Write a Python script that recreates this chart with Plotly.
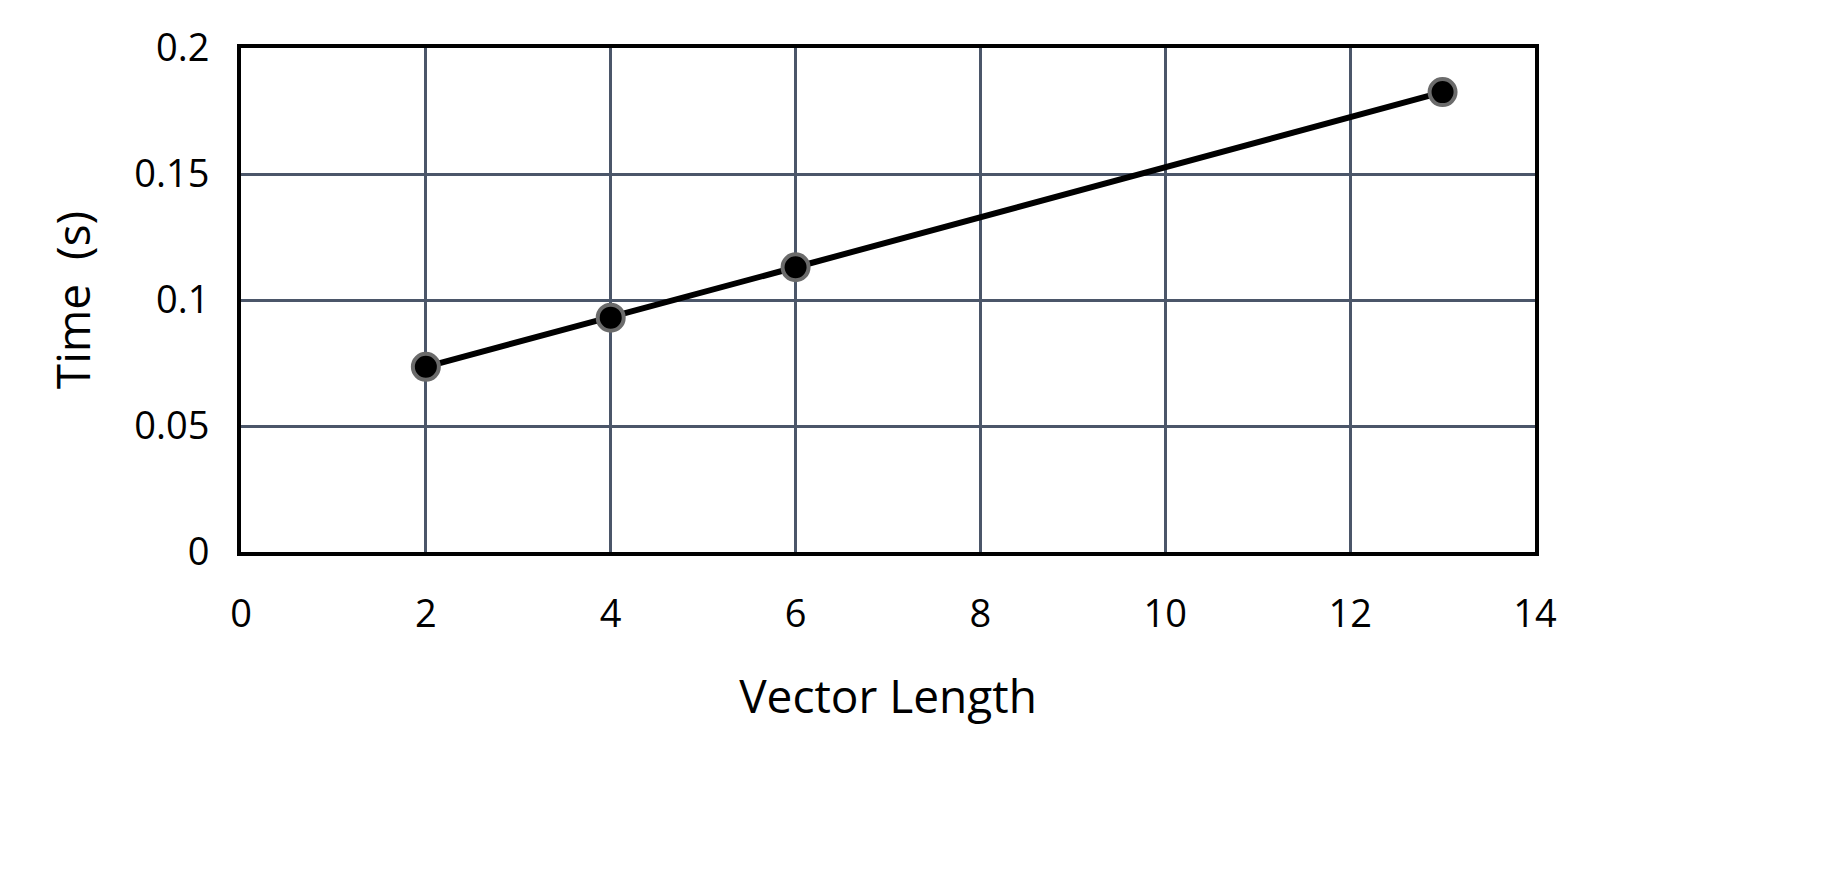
import plotly.graph_objects as go

vector_length = [2, 4, 6, 13]
time_s = [0.0735, 0.093, 0.113, 0.1825]

GRID = "#4b5669"

fig = go.Figure()
fig.add_trace(
    go.Scatter(
        x=vector_length,
        y=time_s,
        mode="lines+markers",
        line=dict(color="black", width=6),
        marker=dict(size=26, color="black", line=dict(color="#6b6b6b", width=4)),
        showlegend=False,
    )
)

fig.update_layout(
    width=1837,
    height=869,
    paper_bgcolor="white",
    plot_bgcolor="white",
    margin=dict(l=233, r=310, t=32, b=325),
    font=dict(family="Open Sans", color="black"),
)
fig.update_xaxes(
    range=[0, 14],
    dtick=2,
    showgrid=True,
    gridcolor=GRID,
    gridwidth=3,
    zeroline=False,
    showline=True,
    linecolor="black",
    linewidth=4,
    mirror=True,
    ticks="",
    ticklabelstandoff=25,
    tickfont=dict(size=38),
    title=dict(text="Vector Length", font=dict(size=46), standoff=45),
)
fig.update_yaxes(
    range=[0, 0.2],
    dtick=0.05,
    tickformat="~g",
    showgrid=True,
    gridcolor=GRID,
    gridwidth=3,
    zeroline=False,
    showline=True,
    linecolor="black",
    linewidth=4,
    mirror=True,
    ticks="",
    ticklabelstandoff=20,
    tickfont=dict(size=38),
    title=dict(text="Time  (s)", font=dict(size=46), standoff=30),
)

fig.write_html("out.html")
